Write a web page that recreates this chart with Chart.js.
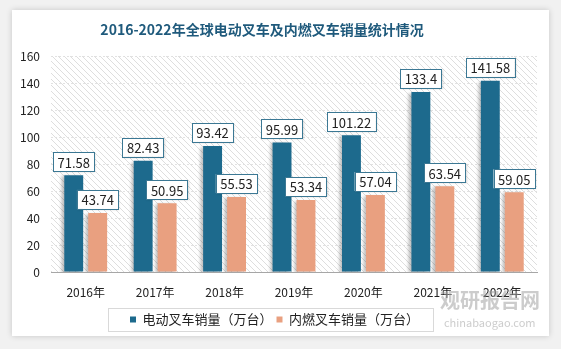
<!DOCTYPE html>
<html>
<head>
<meta charset="utf-8">
<script src="https://cdn.jsdelivr.net/npm/chart.js@4.4.0/dist/chart.umd.min.js"></script>
<style>
  html, body { margin: 0; padding: 0; background: #f1f1f1; }
  #card {
    position: absolute; left: 12px; top: 10px; width: 537px; height: 326px;
    background: #fff; box-shadow: 0 0 6px rgba(0,0,0,0.18);
  }
  canvas { display: block; }
</style>
</head>
<body>
<div id="card"><canvas id="myChart" width="537" height="326"></canvas></div>
<script>
// 年份 / 销量（万台）
const years = ["2016年", "2017年", "2018年", "2019年", "2020年", "2021年", "2022年"];
const electric = [71.58, 82.43, 93.42, 95.99, 101.22, 133.4, 141.58];
const combustion = [43.74, 50.95, 55.53, 53.34, 57.04, 63.54, 59.05];
const seriesNames = ["电动叉车销量（万台）", "内燃叉车销量（万台）"];
const titleText = "2016-2022年全球电动叉车及内燃叉车销量统计情况";

const FONT = "'Noto Sans CJK SC', 'Open Sans', sans-serif";

// 斜线背景
const makeHatch = (ctx) => {
  const c = document.createElement("canvas");
  c.width = 6; c.height = 6;
  const p = c.getContext("2d");
  p.strokeStyle = "#dedede";
  p.lineWidth = 1;
  p.beginPath();
  p.moveTo(0, 0); p.lineTo(6, 6);
  p.moveTo(-3, 3); p.lineTo(3, 9);
  p.moveTo(3, -3); p.lineTo(9, 3);
  p.stroke();
  return ctx.createPattern(c, "repeat");
};

const decor = {
  id: "decor",
  beforeDatasetsDraw(chart) {
    const { ctx, chartArea: a } = chart;
    ctx.save();
    ctx.fillStyle = makeHatch(ctx);
    ctx.fillRect(a.left, a.top, a.right - a.left, a.bottom - a.top);
    ctx.restore();
    // 柱子阴影
    ctx.save();
    ctx.shadowColor = "rgba(0,0,0,0.25)";
    ctx.shadowBlur = 3;
    ctx.shadowOffsetX = -3;
    ctx.shadowOffsetY = 1;
  },
  afterDatasetsDraw(chart) {
    const { ctx } = chart;
    ctx.restore();
    ctx.save();
    ctx.font = "13px " + FONT;
    ctx.textAlign = "center";
    ctx.textBaseline = "middle";
    chart.data.datasets.forEach((ds, i) => {
      chart.getDatasetMeta(i).data.forEach((bar, j) => {
        const txt = String(ds.data[j]);
        const w = ctx.measureText(txt).width + 9;
        const h = 19;
        const cx = bar.x, cy = bar.y - 4 - h / 2;
        ctx.shadowColor = "rgba(0,0,0,0.15)";
        ctx.shadowBlur = 2;
        ctx.shadowOffsetX = 1;
        ctx.shadowOffsetY = 1;
        ctx.fillStyle = "#fff";
        ctx.fillRect(cx - w / 2, cy - h / 2, w, h);
        ctx.shadowColor = "transparent";
        ctx.strokeStyle = "#3b7894";
        ctx.lineWidth = 1;
        ctx.strokeRect(Math.round(cx - w / 2) + 0.5, Math.round(cy - h / 2) + 0.5, Math.round(w), h);
        ctx.fillStyle = "#222";
        ctx.fillText(txt, cx, cy + 1);
      });
    });
    ctx.restore();
  },
  afterDraw(chart) {
    const { ctx } = chart;
    ctx.save();
    // 标题
    ctx.font = "bold 14px " + FONT;
    ctx.fillStyle = "#1f5a7c";
    ctx.textAlign = "center";
    ctx.textBaseline = "middle";
    ctx.fillText(titleText, 250, 20);
    // 图例外框
    const boxes = chart.legend.legendHitBoxes;
    if (boxes && boxes.length) {
      const l = Math.min(...boxes.map(b => b.left)) - 22;
      const r = Math.max(...boxes.map(b => b.left + b.width)) + 14;
      const t = boxes[0].top + boxes[0].height / 2 - 12;
      ctx.strokeStyle = "#d9d9d9";
      ctx.lineWidth = 1;
      ctx.strokeRect(Math.round(l) + 0.5, Math.round(t) + 0.5, Math.round(r - l), 23);
    }
    // 水印
    ctx.globalAlpha = 0.5;
    ctx.fillStyle = "#9a9a9a";
    ctx.textAlign = "left";
    ctx.font = "bold 20px " + FONT;
    ctx.fillText("观研报告网", 428, 290);
    ctx.font = "11px " + FONT;
    ctx.fillText("chinabaogao.com", 432, 313);
    ctx.restore();
  }
};

const ctx = document.getElementById("myChart").getContext("2d");
const myChart = new Chart(ctx, {
  type: "bar",
  data: {
    labels: years,
    datasets: [
      { label: seriesNames[0], data: electric, backgroundColor: "#1d6a8d",
        categoryPercentage: 0.69, barPercentage: 0.79 },
      { label: seriesNames[1], data: combustion, backgroundColor: "#e9a080",
        categoryPercentage: 0.69, barPercentage: 0.79 },
    ],
  },
  options: {
    responsive: false,
    devicePixelRatio: 1,
    animation: false,
    layout: { padding: { left: 0, right: 12, top: 46, bottom: 0 } },
    plugins: {
      title: { display: false },
      tooltip: { enabled: false },
      legend: {
        position: "bottom",
        labels: {
          boxWidth: 6, boxHeight: 6, padding: 4,
          color: "#222", font: { family: FONT, size: 13 },
        },
      },
    },
    scales: {
      x: {
        afterFit: (s) => { s.height = 37; },
        grid: { display: false, drawTicks: false },
        border: { color: "#a6a6a6" },
        ticks: { color: "#222", font: { family: FONT, size: 12 }, padding: 13 },
      },
      y: {
        min: 0, max: 160,
        afterFit: (s) => { s.width = 39; },
        grid: { color: "#e2e2e2", drawTicks: false },
        border: { display: false, dash: [2, 2] },
        ticks: { stepSize: 20, color: "#222", font: { family: FONT, size: 12 }, padding: 11 },
      },
    },
  },
  plugins: [decor],
});
</script>
</body>
</html>
